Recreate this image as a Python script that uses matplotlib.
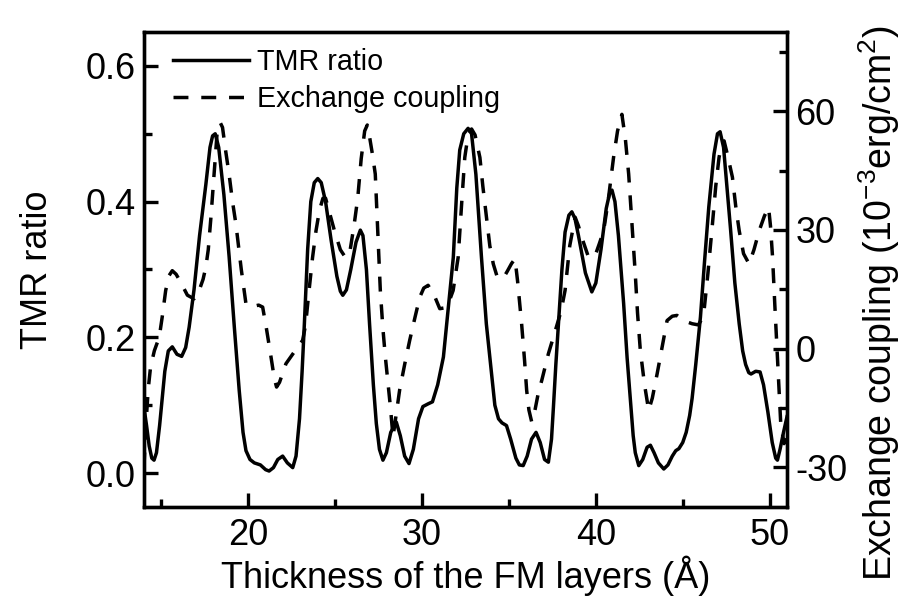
import matplotlib
matplotlib.use("Agg")
import matplotlib.pyplot as plt

plt.rcParams['font.family'] = ['Liberation Sans', 'DejaVu Sans']
plt.rcParams['mathtext.fontset'] = 'custom'
plt.rcParams['mathtext.rm'] = 'Liberation Sans'
plt.rcParams['mathtext.it'] = 'Liberation Sans:italic'
plt.rcParams['axes.unicode_minus'] = False

# TMR ratio (left axis)
tmr_x = [14.0, 14.15, 14.3, 14.45, 14.58, 14.72, 14.9, 15.05, 15.2, 15.4, 15.63, 15.9,
         16.17, 16.4, 16.6, 16.88, 17.2, 17.56, 17.8, 17.95, 18.1, 18.3, 18.6, 18.9,
         19.2, 19.48, 19.7, 19.87, 20.1, 20.35, 20.7, 21.0, 21.2, 21.45, 21.7, 21.98,
         22.25, 22.56, 22.75, 22.95, 23.1, 23.23, 23.42, 23.6, 23.8, 24.0, 24.2, 24.45,
         24.77, 25.1, 25.3, 25.44, 25.65, 25.9, 26.2, 26.45, 26.6, 26.8, 26.98, 27.2,
         27.37, 27.55, 27.75, 27.95, 28.2, 28.52, 28.75, 29.0, 29.25, 29.5, 29.8, 30.05,
         30.35, 30.6, 30.9, 31.23, 31.5, 31.8, 32.0, 32.17, 32.4, 32.65, 32.85, 33.1,
         33.42, 33.7, 33.9, 34.19, 34.4, 34.6, 34.86, 35.1, 35.4, 35.6, 35.82, 36.05,
         36.3, 36.56, 36.8, 37.05, 37.27, 37.45, 37.56, 37.7, 37.85, 38.05, 38.23, 38.45,
         38.62, 38.8, 39.0, 39.4, 39.77, 40.0, 40.3, 40.6, 40.8, 40.93, 41.1, 41.3,
         41.6, 41.8, 41.98, 42.15, 42.27, 42.47, 42.7, 42.95, 43.14, 43.35, 43.6, 43.91,
         44.15, 44.4, 44.6, 44.78, 45.0, 45.2, 45.4, 45.54, 45.75, 46.02, 46.25, 46.5,
         46.8, 47.0, 47.15, 47.35, 47.55, 47.75, 48.0, 48.25, 48.45, 48.62, 48.8, 48.93,
         49.2, 49.45, 49.65, 49.9, 50.15, 50.35, 50.45, 50.6, 50.8, 51.0]
tmr_y = [0.097, 0.07, 0.04, 0.022, 0.019, 0.03, 0.07, 0.11, 0.15, 0.18, 0.186, 0.175,
         0.172, 0.185, 0.215, 0.27, 0.35, 0.425, 0.48, 0.497, 0.5, 0.48, 0.41, 0.319,
         0.215, 0.122, 0.06, 0.033, 0.02, 0.015, 0.012, 0.005, 0.003, 0.008, 0.02, 0.025,
         0.015, 0.008, 0.025, 0.08, 0.15, 0.22, 0.33, 0.4, 0.428, 0.434, 0.428, 0.4,
         0.343, 0.29, 0.268, 0.262, 0.27, 0.3, 0.34, 0.358, 0.35, 0.3, 0.22, 0.13,
         0.073, 0.035, 0.019, 0.03, 0.06, 0.075, 0.055, 0.025, 0.014, 0.035, 0.08, 0.098,
         0.102, 0.105, 0.13, 0.171, 0.24, 0.318, 0.42, 0.476, 0.5, 0.508, 0.5, 0.44,
         0.318, 0.22, 0.171, 0.1, 0.08, 0.074, 0.07, 0.05, 0.022, 0.012, 0.011, 0.025,
         0.05, 0.06, 0.045, 0.02, 0.016, 0.05, 0.097, 0.16, 0.22, 0.3, 0.355, 0.38,
         0.385, 0.375, 0.35, 0.295, 0.267, 0.28, 0.33, 0.39, 0.413, 0.417, 0.4, 0.35,
         0.25, 0.17, 0.11, 0.055, 0.03, 0.011, 0.02, 0.038, 0.041, 0.03, 0.015, 0.006,
         0.012, 0.025, 0.033, 0.036, 0.045, 0.06, 0.085, 0.11, 0.16, 0.23, 0.31, 0.392,
         0.47, 0.5, 0.503, 0.48, 0.42, 0.36, 0.28, 0.22, 0.18, 0.16, 0.148, 0.146,
         0.15, 0.149, 0.13, 0.09, 0.045, 0.022, 0.019, 0.035, 0.06, 0.083]

# Exchange coupling (right axis, 10^-3 erg/cm^2)
ec_x = [14.0, 14.1, 14.25, 14.38, 14.6, 14.88, 15.05, 15.25, 15.45, 15.63, 15.85, 16.11,
        16.5, 16.88, 17.2, 17.4, 17.56, 17.7, 17.85, 18.0, 18.1, 18.2, 18.29, 18.4,
        18.52, 18.7, 18.9, 19.1, 19.29, 19.6, 19.87, 20.1, 20.4, 20.6, 20.83, 21.05,
        21.31, 21.5, 21.63, 21.8, 22.17, 22.7, 23.13, 23.3, 23.5, 23.7, 23.9, 24.1,
        24.3, 24.45, 24.7, 24.96, 25.3, 25.6, 25.85, 26.1, 26.3, 26.5, 26.7, 26.85,
        27.0, 27.15, 27.31, 27.45, 27.6, 27.75, 27.89, 28.05, 28.18, 28.33, 28.5, 28.71,
        29.0, 29.29, 29.6, 29.87, 30.1, 30.35, 30.7, 31.02, 31.3, 31.5, 31.79, 32.08,
        32.3, 32.46, 32.65, 32.85, 33.05, 33.33, 33.5, 33.71, 33.9, 34.1, 34.3, 34.48,
        34.7, 34.9, 35.15, 35.35, 35.5, 35.73, 35.9, 36.02, 36.15, 36.31, 36.5, 36.7,
        36.89, 37.27, 37.7, 38.0, 38.23, 38.5, 38.81, 39.0, 39.2, 39.58, 39.8, 40.0,
        40.2, 40.45, 40.7, 41.02, 41.25, 41.5, 41.7, 41.89, 42.1, 42.27, 42.4, 42.56,
        42.8, 43.04, 43.25, 43.53, 43.8, 44.1, 44.4, 44.67, 45.1, 45.54, 45.9, 46.1,
        46.23, 46.45, 46.71, 46.9, 47.09, 47.25, 47.38, 47.6, 47.86, 48.05, 48.25, 48.5,
        48.82, 49.1, 49.4, 49.7, 49.94, 50.05, 50.17, 50.3, 50.45, 50.64, 50.83, 51.0]
ec_y = [-30, -20, -10, -4.6, -0.5, 2.9, 8, 14.7, 18.5, 19.7, 18.8, 16.8,
        13.5, 12.6, 15, 17.5, 20.6, 25, 33, 42, 48, 54, 56.7, 57,
        55.9, 50, 44, 37, 31.5, 20, 11.3, 10.6, 10.8, 11, 10.5, 5,
        -2.1, -7.5, -9.7, -8.5, -3.8, -0.5, 2.1, 6, 14.7, 23, 29.8, 35,
        38, 38, 34, 29.8, 25, 23, 24.5, 31.5, 38, 48, 55, 56.5,
        53, 49, 44.1, 30, 14.7, 5, -2.1, -9, -14.7, -22.3, -17, -10.5,
        -4, 2.1, 8, 13, 15.3, 16, 13.5, 10.1, 10.3, 11.2, 14.7, 23.1,
        38, 48.3, 54, 55.5, 54, 48.3, 41, 33.2, 26, 21.4, 18.5, 17.6,
        18, 19.5, 21.5, 22.7, 17, 6.3, -3, -10.5, -15.5, -18.5, -15.5, -11,
        -8, -1.3, 5, 9.5, 14.7, 26, 33.2, 31, 28, 23.1, 23, 24,
        26.5, 29.8, 37, 48.3, 55, 59.2, 53, 44.1, 30, 18.9, 9, -0.4,
        -9, -15.6, -12.5, -6.3, 0, 7.1, 8.2, 8.4, 7.0, 6.3, 6.0, 7.5,
        9.7, 19, 31.5, 41, 48.3, 52, 52.5, 48.5, 43.3, 36, 29.8, 24,
        21.4, 25, 29.8, 33.5, 35.7, 31, 23.1, 11, -2.1, -18.9, -24, -18]

fig = plt.figure(figsize=(9.02, 5.99), dpi=100)
ax1 = fig.add_axes([0.1596, 0.1536, 0.7129, 0.793])
ax2 = ax1.twinx()

lw = 2.5
l1, = ax1.plot(tmr_x, tmr_y, color='black', linewidth=lw, solid_joinstyle='round',
               label='TMR ratio')
l2, = ax2.plot(ec_x, ec_y, color='black', linewidth=lw, dashes=(4.3, 3.7),
               dash_joinstyle='round', label='Exchange coupling')

ax1.set_xlim(14, 51)
ax1.set_ylim(-0.05, 0.65)
ax2.set_ylim(-40, 80)

ax1.set_xticks([20, 30, 40, 50])
ax1.set_xticks([15, 25, 35, 45], minor=True)
ax1.set_yticks([0.0, 0.2, 0.4, 0.6])
ax1.set_yticklabels(['0.0', '0.2', '0.4', '0.6'])
ax1.set_yticks([0.1, 0.3, 0.5], minor=True)
ax2.set_yticks([-30, 0, 30, 60])
ax2.set_yticks([-15, 15, 45, 75], minor=True)

for ax in (ax1, ax2):
    ax.tick_params(which='major', direction='in', length=10, width=2.4, labelsize=26)
    ax.tick_params(which='minor', direction='in', length=6, width=2.4)
    for s in ax.spines.values():
        s.set_linewidth(2.4)
ax1.tick_params(axis='x', pad=8)
ax1.tick_params(axis='y', pad=6)
ax2.tick_params(axis='y', pad=6)

ax1.set_xlabel('Thickness of the FM layers (Å)', fontsize=26, labelpad=2)
ax1.set_ylabel('TMR ratio', fontsize=26, labelpad=22)
ax2.set_ylabel(r'Exchange coupling (10$^{\mathregular{-3}}$erg/cm$^{\mathregular{2}}$)',
               fontsize=27)
ax2.yaxis.set_label_coords(1.108, 0.43)

ax1.legend(handles=[l1, l2], loc='upper left', bbox_to_anchor=(0.0095, 1.0147), fontsize=20.7,
           frameon=False, handlelength=2.65, handletextpad=0.28, labelspacing=0.33,
           borderaxespad=0.5, borderpad=0.3)

fig.savefig('out.png', dpi=100)
